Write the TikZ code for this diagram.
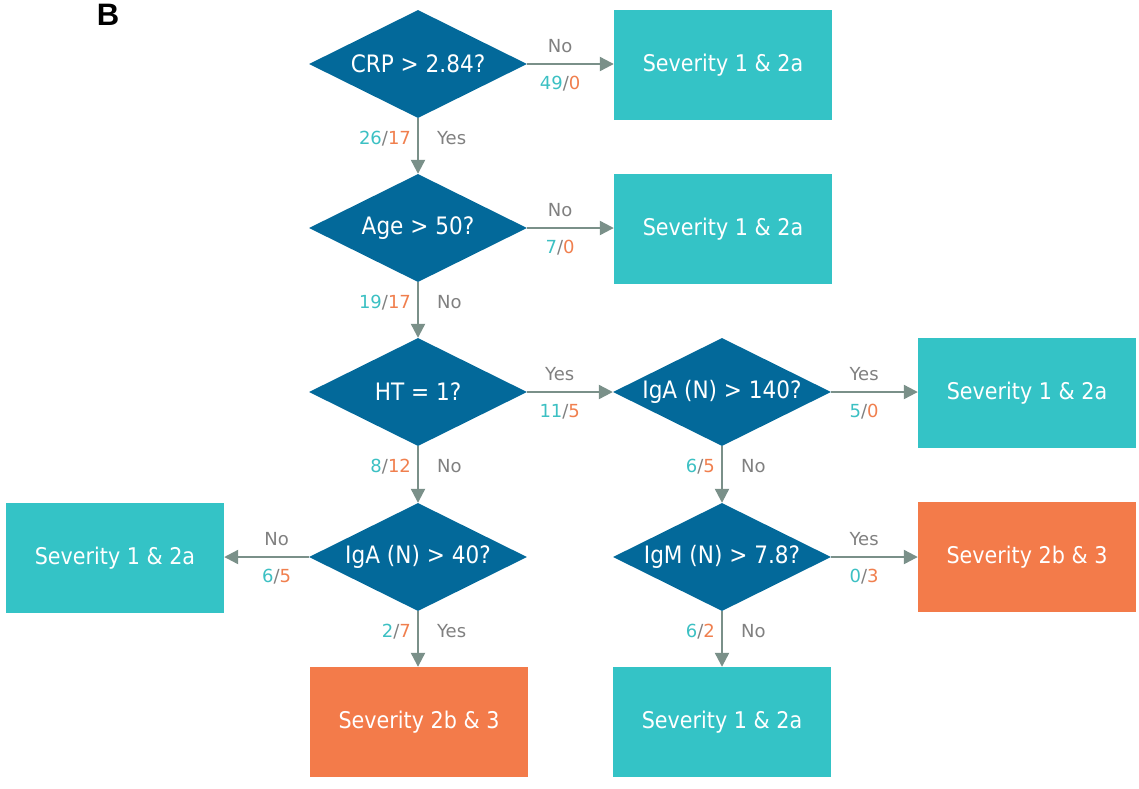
\documentclass[tikz,border=0pt]{standalone}
\usepackage{fontspec}
\setmainfont{DejaVu Sans}
\newfontfamily\narrowfont{DejaVu Sans}[FakeStretch=0.9]
\newfontfamily\panelfont{Liberation Sans}
\usetikzlibrary{shapes.geometric,arrows.meta}

\definecolor{decblue}{HTML}{03699A}
\definecolor{mildteal}{HTML}{34C3C6}
\definecolor{severeorg}{HTML}{F37B4A}
\definecolor{arrowgrey}{HTML}{7A9089}
\definecolor{labelgrey}{HTML}{808080}
\definecolor{numteal}{HTML}{3CC0C3}
\definecolor{numorg}{HTML}{F07F4E}

\newcommand{\cnt}[2]{{\color{numteal}#1}/{\color{numorg}#2}}

\tikzset{
  decision/.style={diamond, fill=decblue, draw=none, text=white, inner sep=0pt,
    minimum width=218pt, minimum height=108pt, aspect=2,
    font=\narrowfont\fontsize{24}{28}\selectfont},
  outcome/.style={rectangle, draw=none, text=white, inner sep=0pt,
    minimum width=218pt, minimum height=110pt,
    font=\narrowfont\fontsize{23}{27}\selectfont},
  mild/.style={outcome, fill=mildteal},
  severe/.style={outcome, fill=severeorg},
  link/.style={draw=arrowgrey, line width=2.2pt,
    -{Triangle[length=14pt,width=14pt]}},
  lbl/.style={text=labelgrey, inner sep=0pt, text height=1.3ex, text depth=0.2ex,
    font=\fontsize{18}{21}\selectfont},
  above lbl/.style={lbl, yshift=15pt},
  below lbl/.style={lbl, yshift=-22pt},
  left lbl/.style={lbl, anchor=east, xshift=-6pt},
  right lbl/.style={lbl, anchor=west, xshift=18pt},
}

\begin{document}
\begin{tikzpicture}[x=1pt, y=-1pt]
  \useasboundingbox (0,0) rectangle (1139,788);

  \node[font=\panelfont\bfseries\fontsize{31}{34}\selectfont] (panel) at (108,15) {B};

  % decision nodes
  \node[decision] (crp)  at (418,64)  {CRP > 2.84?};
  \node[decision] (age)  at (418,228) {Age > 50?};
  \node[decision] (ht)   at (418,392) {HT = 1?};
  \node[decision] (iga1) at (722,392) {IgA (N) > 140?};
  \node[decision] (iga2) at (418,557) {IgA (N) > 40?};
  \node[decision] (igm)  at (722,557) {IgM (N) > 7.8?};

  % outcome nodes
  \node[mild]   (o1) at (723,65)  {Severity 1 \& 2a};
  \node[mild]   (o2) at (723,229) {Severity 1 \& 2a};
  \node[mild]   (o3) at (1027,393) {Severity 1 \& 2a};
  \node[mild]   (o4) at (115,558) {Severity 1 \& 2a};
  \node[severe] (o5) at (1027,557) {Severity 2b \& 3};
  \node[severe] (o6) at (419,722) {Severity 2b \& 3};
  \node[mild]   (o7) at (722,722) {Severity 1 \& 2a};

  % horizontal branches
  \draw[link] (crp.east) -- node[pos=0.38, above lbl] {No}
    node[pos=0.38, below lbl] {\cnt{49}{0}} (crp.east -| o1.west);
  \draw[link] (age.east) -- node[pos=0.38, above lbl] {No}
    node[pos=0.38, below lbl] {\cnt{7}{0}} (age.east -| o2.west);
  \draw[link] (ht.east) -- node[pos=0.38, above lbl] {Yes}
    node[pos=0.38, below lbl] {\cnt{11}{5}} (iga1.west);
  \draw[link] (iga1.east) -- node[pos=0.38, above lbl] {Yes}
    node[pos=0.38, below lbl] {\cnt{5}{0}} (iga1.east -| o3.west);
  \draw[link] (igm.east) -- node[pos=0.38, above lbl] {Yes}
    node[pos=0.38, below lbl] {\cnt{0}{3}} (igm.east -| o5.west);
  \draw[link] (iga2.west) -- node[pos=0.38, above lbl] {No}
    node[pos=0.38, below lbl] {\cnt{6}{5}} (iga2.west -| o4.east);

  % vertical branches
  \draw[link] (crp.south) -- node[pos=0.41, left lbl] {\cnt{26}{17}}
    node[pos=0.41, right lbl] {Yes} (age.north);
  \draw[link] (age.south) -- node[pos=0.41, left lbl] {\cnt{19}{17}}
    node[pos=0.41, right lbl] {No} (ht.north);
  \draw[link] (ht.south) -- node[pos=0.41, left lbl] {\cnt{8}{12}}
    node[pos=0.41, right lbl] {No} (iga2.north);
  \draw[link] (iga1.south) -- node[pos=0.41, left lbl] {\cnt{6}{5}}
    node[pos=0.41, right lbl] {No} (igm.north);
  \draw[link] (iga2.south) -- node[pos=0.41, left lbl] {\cnt{2}{7}}
    node[pos=0.41, right lbl] {Yes} (iga2.south |- o6.north);
  \draw[link] (igm.south) -- node[pos=0.41, left lbl] {\cnt{6}{2}}
    node[pos=0.41, right lbl] {No} (igm.south |- o7.north);
\end{tikzpicture}
\end{document}
